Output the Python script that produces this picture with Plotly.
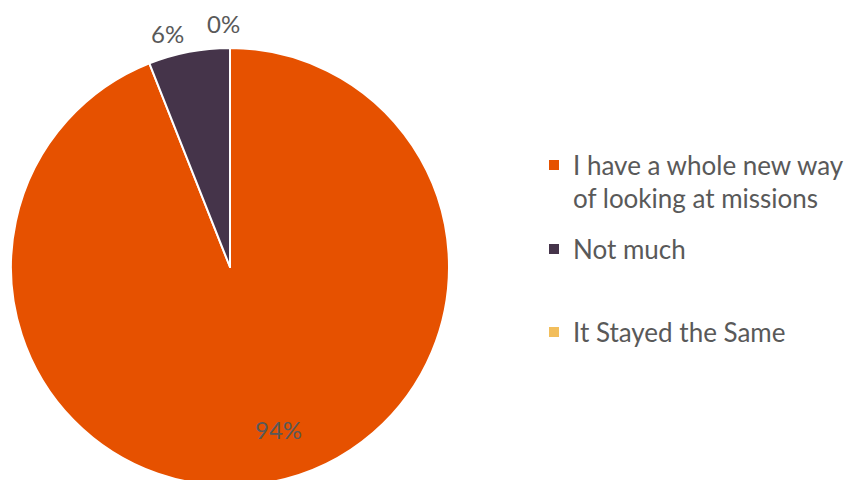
import math
import plotly.graph_objects as go

labels = ["I have a whole new way<br>of looking at missions", "Not much", "It Stayed the Same"]
values = [94, 6, 0]
colors = ["#E65100", "#45344A", "#F2BE5C"]

# figure is drawn inside a page with an 8px body margin
OFF = 8
W, H = 852, 490
cx, cy, R = 230 - OFF, 267 - OFF, 219
TXT = "#595959"
FONT = "Lato"

fig = go.Figure(go.Pie(
    labels=labels, values=values, sort=False, direction="clockwise", rotation=0,
    marker=dict(colors=colors, line=dict(color="white", width=2)),
    textinfo="none", hoverinfo="label+percent", showlegend=False,
    domain=dict(x=[(cx - R) / W, (cx + R) / W], y=[1 - (cy + R) / H, 1 - (cy - R) / H]),
))

# percentage labels positioned from the slice angles
total = sum(values)
cum = 0
factors = [0.785, 1.096, 1.119]
shifts = [(16, 6), (-18, -2), (-6, -2)]
for v, f, (xs, ys) in zip(values, factors, shifts):
    mid = (cum + v / 2) / total * 2 * math.pi
    cum += v
    px = cx + f * R * math.sin(mid)
    py = cy - f * R * math.cos(mid)
    fig.add_annotation(x=px / W, y=1 - py / H, xref="paper", yref="paper",
                       text=f"{round(100 * v / total)}%", showarrow=False,
                       xshift=xs, yshift=ys, xanchor="center", yanchor="middle",
                       font=dict(family=FONT, size=24, color=TXT))

# legend (drawn manually to reproduce the spacing of the original)
item_y = [165, 249, 332]
line_gap = 33
sq = 10
sq_x = 549 - OFF
txt_x = 571 - OFF
for lab, col, y in zip(labels, colors, item_y):
    y -= OFF
    fig.add_shape(type="rect", xref="paper", yref="paper",
                  x0=sq_x / W, x1=(sq_x + sq) / W,
                  y0=1 - (y + sq / 2) / H, y1=1 - (y - sq / 2) / H,
                  fillcolor=col, line=dict(width=0))
    for i, line in enumerate(lab.split("<br>")):
        ly = y + i * line_gap
        fig.add_annotation(x=txt_x / W, y=1 - ly / H, xref="paper", yref="paper",
                           text=line, showarrow=False, xanchor="left", yanchor="middle",
                           font=dict(family=FONT, size=26, color=TXT))

fig.update_layout(
    width=W, height=H, margin=dict(l=0, r=0, t=0, b=0),
    paper_bgcolor="white", plot_bgcolor="white",
    font=dict(family=FONT, size=22, color=TXT),
)
fig.write_html("out.html")
